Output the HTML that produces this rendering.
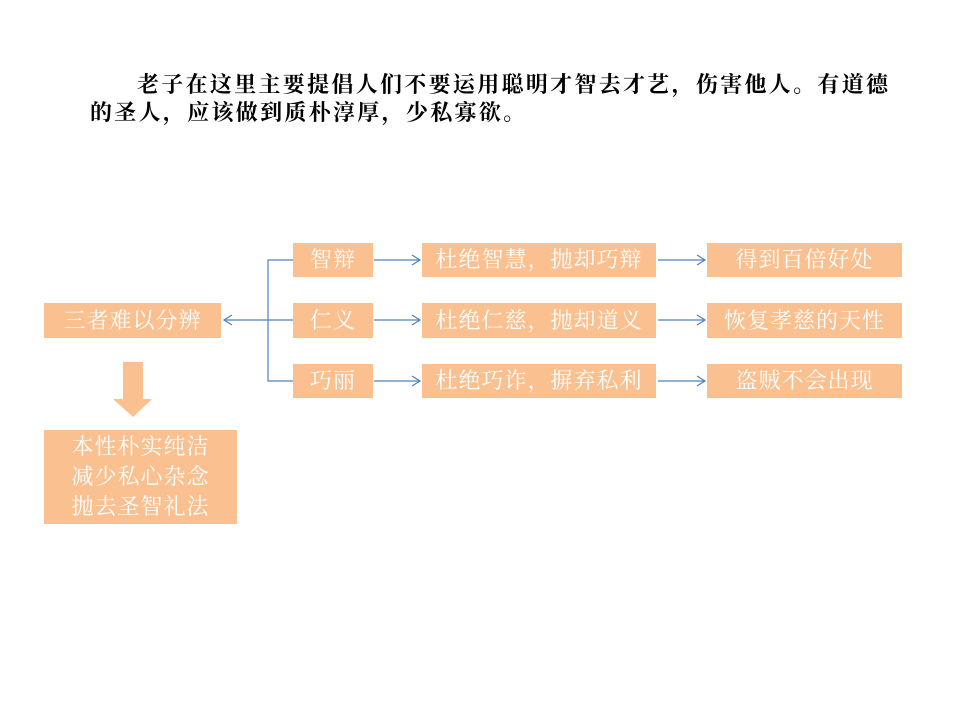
<!DOCTYPE html>
<html><head><meta charset="utf-8"><style>
body{margin:0;width:960px;height:720px;background:#fff;position:relative;overflow:hidden;font-family:"Liberation Serif","Noto Serif CJK SC",serif}
.t{position:absolute;font-size:22px;letter-spacing:2.3px;color:#000;white-space:nowrap;font-weight:bold}
.b{position:absolute;background:#FAC090;color:#fff;font-size:22px;display:flex;align-items:center;justify-content:center;letter-spacing:1px;text-align:center;line-height:30px}
</style></head><body>
<div class="t" style="left:137px;top:68px">老子在这里主要提倡人们不要运用聪明才智去才艺，伤害他人。有道德</div>
<div class="t" style="left:90px;top:96px">的圣人，应该做到质朴淳厚，少私寡欲。</div>
<svg width="960" height="720" style="position:absolute;left:0;top:0">
<g stroke="#4F81BD" stroke-width="1.2" fill="none">
<polyline points="293,260 268,260 268,381 293,381"/>
<line x1="224" y1="320" x2="293" y2="320"/>
<polyline points="232,315 224,320 232,325"/>
<line x1="374" y1="260" x2="420" y2="260"/><polyline points="412,255 420,260 412,265"/>
<line x1="374" y1="320" x2="420" y2="320"/><polyline points="412,315 420,320 412,325"/>
<line x1="374" y1="381" x2="420" y2="381"/><polyline points="412,376 420,381 412,386"/>
<line x1="658" y1="260" x2="705" y2="260"/><polyline points="697,255 705,260 697,265"/>
<line x1="658" y1="320" x2="705" y2="320"/><polyline points="697,315 705,320 697,325"/>
<line x1="658" y1="381" x2="705" y2="381"/><polyline points="697,376 705,381 697,386"/>
</g>
<polygon points="123,362 143,362 143,399 152,399 133,417 113,399 123,399" fill="#FAC090"/>
</svg>
<div class="b" style="left:44px;top:303px;width:177px;height:35px">三者难以分辨</div>
<div class="b" style="left:293px;top:243px;width:80px;height:34px">智辩</div>
<div class="b" style="left:293px;top:303px;width:80px;height:35px">仁义</div>
<div class="b" style="left:293px;top:364px;width:80px;height:34px">巧丽</div>
<div class="b" style="left:422px;top:243px;width:234px;height:34px">杜绝智慧，抛却巧辩</div>
<div class="b" style="left:422px;top:303px;width:234px;height:35px">杜绝仁慈，抛却道义</div>
<div class="b" style="left:422px;top:364px;width:234px;height:34px">杜绝巧诈，摒弃私利</div>
<div class="b" style="left:707px;top:243px;width:195px;height:34px">得到百倍好处</div>
<div class="b" style="left:707px;top:303px;width:195px;height:35px">恢复孝慈的天性</div>
<div class="b" style="left:707px;top:364px;width:195px;height:34px">盗贼不会出现</div>
<div class="b" style="left:44px;top:430px;width:193px;height:94px">本性朴实纯洁<br>减少私心杂念<br>抛去圣智礼法</div>
</body></html>
